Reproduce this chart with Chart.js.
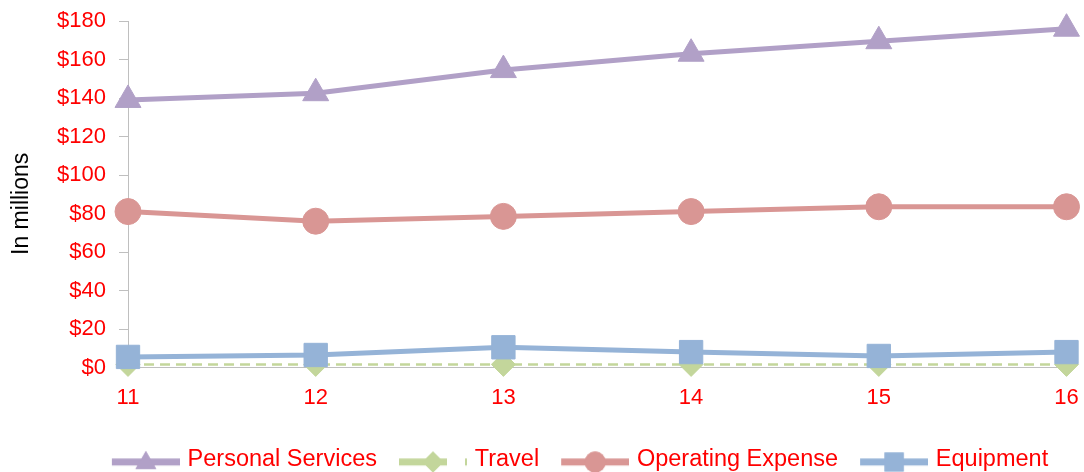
<!DOCTYPE html>
<html><head><meta charset="utf-8">
<script src="https://cdn.jsdelivr.net/npm/chart.js@4"></script>
<style>html,body{margin:0;padding:0;background:#fff}</style>
</head><body>
<canvas id="c" width="1084" height="472"></canvas>
<script>
const categories = ['11', '12', '13', '14', '15', '16'];
const seriesNames = ['Personal Services', 'Travel', 'Operating Expense', 'Equipment'];
const personalServices = [139, 142.5, 154.5, 163, 169.5, 176];
const travel = [1.6, 1.6, 1.6, 1.6, 1.6, 1.6];
const operatingExpense = [81, 76, 78.5, 81, 83.5, 83.5];
const equipment = [5.5, 6.5, 10.5, 8, 6, 8];
const yTickValues = [0, 20, 40, 60, 80, 100, 120, 140, 160, 180];

const FONT = '"Liberation Sans", Arial, sans-serif';
const colors = ['#b1a0c7', '#c3d69b', '#d99694', '#95b3d7'];
const styles = ['triangle', 'rectRot', 'circle', 'rect'];

function makeIcon(color, style, dashed) {
  const cv = document.createElement('canvas');
  cv.width = 84; cv.height = 30;
  const ctx = cv.getContext('2d');
  const cy = 17.8;
  ctx.strokeStyle = color; ctx.fillStyle = color;
  ctx.lineWidth = 7;
  if (dashed) ctx.setLineDash([48, 18]);
  ctx.beginPath(); ctx.moveTo(16, cy); ctx.lineTo(84, cy); ctx.stroke();
  ctx.setLineDash([]);
  const r = style === 'rect' ? 13.5 : (style === 'triangle' ? 12 : 10.5);
  ctx.beginPath();
  Chart.helpers.drawPoint(ctx, {pointStyle: style, radius: r, rotation: 0, borderWidth: 0}, 50, style === 'triangle' ? cy + 1 : cy);
  ctx.fill();
  return cv;
}

const ds = (i, data, extra) => Object.assign({
  label: seriesNames[i], data,
  borderColor: colors[i], backgroundColor: colors[i],
  pointBackgroundColor: colors[i], pointBorderColor: colors[i],
  pointStyle: styles[i], borderWidth: 5, pointBorderWidth: 1,
  clip: false, tension: 0
}, extra);

const legendShift = {
  id: 'legendShift',
  afterLayout(chart) {
    chart.legend.left += 40;
    chart.legend.right += 40;
  }
};

const chart = new Chart(document.getElementById('c'), {
  type: 'line',
  data: {
    labels: categories,
    datasets: [
      ds(0, personalServices, {pointRadius: 15, pointHoverRadius: 15, order: 0}),
      ds(1, travel, {pointRadius: 12, pointHoverRadius: 12, borderWidth: 2.5, borderDash: [10, 6], order: 3}),
      ds(2, operatingExpense, {pointRadius: 13, pointHoverRadius: 13, order: 1}),
      ds(3, equipment, {pointRadius: 16.5, pointHoverRadius: 16.5, order: 2})
    ]
  },
  plugins: [legendShift],
  options: {
    responsive: false,
    animation: false,
    events: [],
    layout: {padding: {left: 0, right: 16, top: 21, bottom: -9}},
    plugins: {
      tooltip: {enabled: false},
      legend: {
        position: 'bottom',
        labels: {
          color: '#ff0000',
          font: {family: FONT, size: 23.5},
          usePointStyle: true,
          pointStyleWidth: 76,
          padding: 10,
          generateLabels: (c) => c.data.datasets.map((d, i) => ({
            text: d.label,
            fillStyle: colors[i], strokeStyle: colors[i], fontColor: '#ff0000',
            pointStyle: makeIcon(colors[i], styles[i], i === 1),
            lineWidth: 0, hidden: false, datasetIndex: i
          }))
        }
      }
    },
    scales: {
      x: {
        offset: false,
        afterFit: (s) => { s.height = 70; s.paddingLeft = 0; s.paddingRight = 0; },
        grid: {display: true, drawOnChartArea: false, drawTicks: true, tickLength: 17, tickColor: 'rgba(0,0,0,0)', color: '#bfbfbf'},
        border: {color: '#bfbfbf', width: 1},
        ticks: {color: '#ff0000', font: {family: FONT, size: 22}, padding: 0, maxRotation: 0}
      },
      y: {
        min: 0, max: 180,
        afterBuildTicks: (s) => { s.ticks = yTickValues.map(v => ({value: v})); },
        afterFit: (s) => { s.width = 128; s.paddingTop = 0; s.paddingBottom = 0; },
        grid: {display: true, drawOnChartArea: false, drawTicks: true, tickLength: 9, color: '#bfbfbf'},
        border: {color: '#bfbfbf', width: 1},
        ticks: {color: '#ff0000', font: {family: FONT, size: 22}, padding: 13, callback: (v) => '$' + v},
        title: {display: true, text: 'In millions\u00a0\u00a0\u00a0', color: '#000000', font: {family: FONT, size: 23}, padding: {top: 8, bottom: 0}}
      }
    }
  }
});
</script>
</body></html>
